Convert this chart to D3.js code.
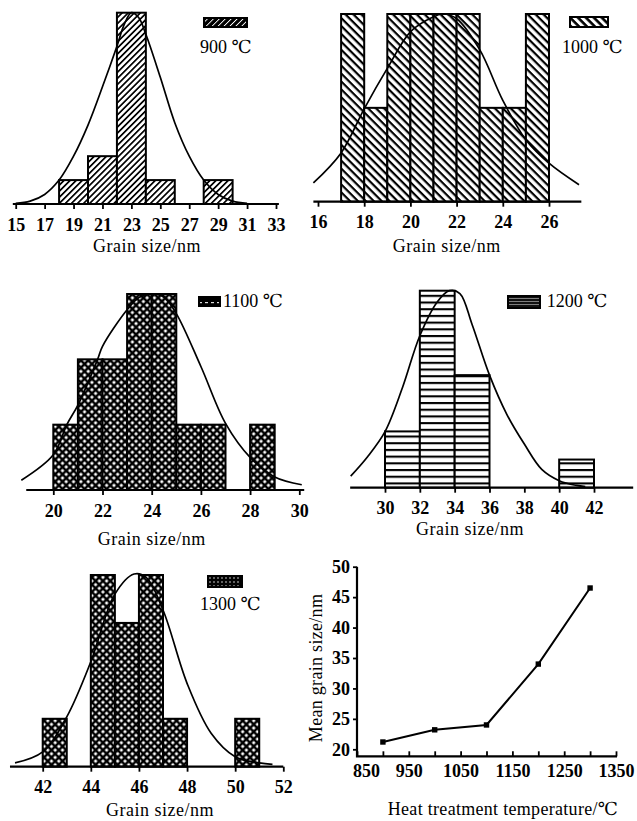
<!DOCTYPE html>
<html>
<head>
<meta charset="utf-8">
<script src="https://cdn.jsdelivr.net/npm/d3@7"></script>
<style>
  body { margin: 0; background: #fff; }
  svg { display: block; }
  text { font-family: "Liberation Serif", "DejaVu Serif", "Noto Sans CJK SC", serif; fill: #000; }
</style>
</head>
<body>
<div id="chart"></div>
<script>
// histogram bins (left edges), bin counts and fitted-curve points
const bins900 = [18, 20, 22, 24, 28]
const counts900 = [1, 2, 8, 1, 1]
const fit900 = [[15, 0.03], [16, 0.12], [17, 0.4], [18, 1.0], [19, 2.0], [20, 3.3], [21, 4.9], [22, 6.6], [22.5, 7.5], [23, 8.0], [23.5, 7.8], [24, 7.1], [25, 5.3], [26, 3.4], [27, 2.0], [28, 1.0], [29, 0.4], [30, 0.12], [31, 0.03]]
const ticks900 = [15, 17, 19, 21, 23, 25, 27, 29, 31, 33]

const bins1000 = [17, 18, 19, 20, 21, 22, 23, 24, 25]
const counts1000 = [2, 1, 2, 2, 2, 2, 1, 1, 2]
const fit1000 = [[15.8, 0.2], [17, 0.52], [18, 0.99], [19, 1.42], [20, 1.81], [21, 1.97], [21.4, 2.0], [22, 1.95], [23, 1.62], [24, 1.08], [25, 0.66], [26, 0.41], [27.3, 0.18]]
const ticks1000 = [16, 18, 20, 22, 24, 26]

const bins1100 = [20, 21, 22, 23, 24, 25, 26, 28]
const counts1100 = [1, 2, 2, 3, 3, 1, 1, 1]
const fit1100 = [[18.7, 0.15], [20, 0.54], [20.55, 1.0], [21, 1.3], [21.8, 2.0], [22, 2.2], [23, 2.76], [23.5, 2.95], [24, 3.0], [24.5, 2.95], [25, 2.7], [26, 1.89], [27, 1.02], [28, 0.5], [29, 0.2], [30.1, 0.08]]
const ticks1100 = [20, 22, 24, 26, 28, 30]

const bins1200 = [30, 32, 34, 40]
const counts1200 = [2, 7, 4, 1]
const fit1200 = [[28.03, 0.41], [29, 1.1], [30, 1.99], [31, 3.55], [32, 5.4], [33, 6.6], [33.7, 7.0], [34.3, 6.9], [35, 5.8], [36, 4.0], [37, 2.6], [38, 1.55], [39, 0.65], [40, 0.25], [41, 0.08], [41.5, 0.04]]
const ticks1200 = [30, 32, 34, 36, 38, 40, 42]

const bins1300 = [42, 44, 45, 46, 47, 50]
const counts1300 = [1, 4, 3, 4, 1, 1]
const fit1300 = [[40.85, 0.08], [42, 0.31], [43, 1.04], [44, 2.19], [45, 3.6], [45.8, 4.02], [46.3, 3.95], [47, 3.27], [48, 1.74], [49, 0.7], [50, 0.21], [51, 0.08], [51.55, 0.05]]
const ticks1300 = [42, 44, 46, 48, 50, 52]

// mean grain size vs heat treatment temperature
const temps = [900, 1000, 1100, 1200, 1300]
const meanSize = [21.2, 23.2, 24.0, 34.0, 46.5]
const tempTicks = [850, 900, 950, 1000, 1050, 1100, 1150, 1200, 1250, 1300, 1350]
const tempLabels = [850, 950, 1050, 1150, 1250, 1350]
const sizeTicks = [20, 25, 30, 35, 40, 45, 50]

const W = 637
const H = 821

const svg = d3.select('#chart').append('svg')
  .attr('width', W)
  .attr('height', H)
  .attr('viewBox', `0 0 ${W} ${H}`)

svg.append('rect').attr('width', W).attr('height', H).attr('fill', '#fff')

// ---- fill patterns (drawn axis-aligned, then rotated)
const defs = svg.append('defs')

function pat (id, size, angle, draw) {
  const p = defs.append('pattern')
    .attr('id', id)
    .attr('patternUnits', 'userSpaceOnUse')
    .attr('width', size)
    .attr('height', size)
  if (angle) p.attr('patternTransform', `rotate(${angle})`)
  draw(p, size)
}

// "/" hatching
pat('p900', 4.3, -45, (p, s) => {
  p.append('rect').attr('width', s).attr('height', s).attr('fill', '#fff')
  p.append('rect').attr('width', s).attr('height', 1.7).attr('fill', '#000')
})
// "\" hatching
pat('p1000', 5.6, 45, (p, s) => {
  p.append('rect').attr('width', s).attr('height', s).attr('fill', '#fff')
  p.append('rect').attr('width', s).attr('height', 2.2).attr('fill', '#000')
})
// cross hatching
pat('pcross', 5.2, 45, (p, s) => {
  const w = 2.5
  p.append('rect').attr('width', s).attr('height', s).attr('fill', '#000')
  p.append('rect').attr('x', w / 2).attr('y', w / 2).attr('width', s - w).attr('height', s - w).attr('fill', '#fff')
})
// horizontal lines
pat('p1200', 6.7, 0, (p, s) => {
  p.append('rect').attr('width', s).attr('height', s).attr('fill', '#fff')
  p.append('rect').attr('y', 0).attr('width', s).attr('height', 2.1).attr('fill', '#000')
})
// legend swatch fills
pat('l900', 4.2, -45, (p, s) => {
  p.append('rect').attr('width', s).attr('height', s).attr('fill', '#000')
  p.append('rect').attr('width', s).attr('height', 0.9).attr('fill', '#fff')
})
pat('l1000', 5.6, 45, (p, s) => {
  p.append('rect').attr('width', s).attr('height', s).attr('fill', '#fff')
  p.append('rect').attr('width', s).attr('height', 2.6).attr('fill', '#000')
})
pat('l1100', 6, 0, (p, s) => {
  p.append('rect').attr('width', s).attr('height', s).attr('fill', '#000')
  p.append('rect').attr('x', 1).attr('y', 2).attr('width', 3).attr('height', 1.2).attr('fill', '#ddd')
})
pat('l1200', 3, 0, (p, s) => {
  p.append('rect').attr('width', s).attr('height', s).attr('fill', '#111')
  p.append('rect').attr('y', 1).attr('width', s).attr('height', 0.8).attr('fill', '#999')
})
pat('l1300', 4, 0, (p, s) => {
  p.append('rect').attr('width', s).attr('height', s).attr('fill', '#000')
  p.append('circle').attr('cx', 2).attr('cy', 2).attr('r', 0.8).attr('fill', '#ddd')
})

// ---- panel layout
const panels = [
  {
    bins: bins900, counts: counts900, binW: 2, fit: fit900, ticks: ticks900,
    xDomain: [15, 33], xRange: [15.7, 276], base: 204, top: 12.7, yMax: 8, axisExt: [14.8, 33.2],
    fill: 'p900', swatch: { x: 204, y: 18, w: 43, h: 9, fill: 'l900' }, label: '900 ℃', lx: 200, ly: 53,
    title: [147, 252]
  },
  {
    bins: bins1000, counts: counts1000, binW: 1, fit: fit1000, ticks: ticks1000,
    xDomain: [16, 26], xRange: [318, 549], base: 201.7, top: 14, yMax: 2, axisExt: [15.8, 27.4],
    fill: 'p1000', swatch: { x: 570, y: 17, w: 38, h: 10, fill: 'l1000' }, label: '1000 ℃', lx: 562, ly: 53,
    title: [446.7, 252]
  },
  {
    bins: bins1100, counts: counts1100, binW: 1, fit: fit1100, ticks: ticks1100,
    xDomain: [20, 30], xRange: [53.3, 299.3], base: 490, top: 294, yMax: 3, axisExt: [18.9, 30.2],
    fill: 'pcross', swatch: { x: 199, y: 297, w: 21, h: 9, fill: 'l1100' }, label: '1100 ℃', lx: 223, ly: 307,
    title: [151.7, 545]
  },
  {
    bins: bins1200, counts: counts1200, binW: 2, fit: fit1200, ticks: ticks1200,
    xDomain: [30, 42], xRange: [385, 594], base: 487.7, top: 290.7, yMax: 7, axisExt: [28.0, 44.25],
    fill: 'p1200', swatch: { x: 508, y: 296, w: 32, h: 12, fill: 'l1200' }, label: '1200 ℃', lx: 546.7, ly: 307.3,
    title: [470, 535]
  },
  {
    bins: bins1300, counts: counts1300, binW: 1, fit: fit1300, ticks: ticks1300,
    xDomain: [42, 52], xRange: [42.7, 283.3], base: 766.7, top: 575, yMax: 4, axisExt: [40.64, 52.0],
    fill: 'pcross', swatch: { x: 208, y: 576, w: 34, h: 11, fill: 'l1300' }, label: '1300 ℃', lx: 200, ly: 610,
    title: [160, 816]
  }
]

function styleAxis (ax) {
  ax.attr('font-family', null).attr('font-size', null)
  ax.selectAll('.tick line').attr('stroke', '#000').attr('stroke-width', 1.8)
  ax.selectAll('.tick text')
    .attr('font-size', 18)
    .attr('font-weight', 'bold')
}

function histogram (cfg) {
  const g = svg.append('g')
  const x = d3.scaleLinear().domain(cfg.xDomain).range(cfg.xRange)
  const y = d3.scaleLinear().domain([0, cfg.yMax]).range([cfg.base, cfg.top])

  const rows = cfg.bins.map((b, i) => ({ x0: b, x1: b + cfg.binW, n: cfg.counts[i] }))

  g.selectAll('rect.bar')
    .data(rows)
    .join('rect')
    .attr('class', 'bar')
    .attr('x', d => x(d.x0))
    .attr('width', d => x(d.x1) - x(d.x0))
    .attr('y', d => y(d.n))
    .attr('height', d => y(0) - y(d.n))
    .attr('fill', `url(#${cfg.fill})`)
    .attr('stroke', '#000')
    .attr('stroke-width', 2)

  // fitted distribution curve
  const line = d3.line()
    .x(d => x(d[0]))
    .y(d => y(d[1]))
    .curve(d3.curveCatmullRom.alpha(0.5))
  g.append('path')
    .datum(cfg.fit)
    .attr('d', line)
    .attr('fill', 'none')
    .attr('stroke', '#000')
    .attr('stroke-width', 1.7)

  const ax = g.append('g')
    .attr('transform', `translate(0,${cfg.base})`)
    .call(d3.axisBottom(x).tickValues(cfg.ticks).tickSize(5).tickPadding(9).tickSizeOuter(0))
  ax.select('.domain').remove()
  styleAxis(ax)

  g.append('line')
    .attr('x1', x(cfg.axisExt[0]))
    .attr('x2', x(cfg.axisExt[1]))
    .attr('y1', cfg.base)
    .attr('y2', cfg.base)
    .attr('stroke', '#000')
    .attr('stroke-width', 2.2)

  // legend
  g.append('rect')
    .attr('x', cfg.swatch.x).attr('y', cfg.swatch.y)
    .attr('width', cfg.swatch.w).attr('height', cfg.swatch.h)
    .attr('fill', `url(#${cfg.swatch.fill})`)
    .attr('stroke', '#000').attr('stroke-width', 2)
  g.append('text')
    .attr('x', cfg.lx).attr('y', cfg.ly)
    .attr('font-size', 18)
    .text(cfg.label)

  g.append('text')
    .attr('x', cfg.title[0]).attr('y', cfg.title[1])
    .attr('text-anchor', 'middle')
    .attr('font-size', 18)
    .attr('letter-spacing', 0.5)
    .text('Grain size/nm')
}

panels.forEach(histogram)

// ---- mean grain size line chart
const lx = d3.scaleLinear().domain([850, 1350]).range([357, 616])
const ly = d3.scaleLinear().domain([20, 50]).range([749.3, 566.7])
const yBottom = 18.85

const lg = svg.append('g')

const xa = lg.append('g')
  .attr('transform', `translate(0,${ly(yBottom)})`)
  .call(d3.axisBottom(lx).tickValues(tempTicks).tickSizeInner(-5).tickSizeOuter(0).tickPadding(8)
    .tickFormat(d => tempLabels.includes(d) ? d : ''))
xa.select('.domain').remove()
styleAxis(xa)
// first label sits just right of the corner in the original
xa.selectAll('.tick text').filter(d => d === 850).attr('dx', 9)

const ya = lg.append('g')
  .attr('transform', `translate(${lx(850)},0)`)
  .call(d3.axisLeft(ly).tickValues(sizeTicks).tickSize(4).tickPadding(3).tickSizeOuter(0))
ya.select('.domain').remove()
styleAxis(ya)

lg.append('path')
  .attr('d', `M${lx(850)},${ly(50)} L${lx(850)},${ly(yBottom)} L${lx(1352)},${ly(yBottom)}`)
  .attr('fill', 'none')
  .attr('stroke', '#000')
  .attr('stroke-width', 2.2)

const pts = temps.map((t, i) => [t, meanSize[i]])

lg.append('path')
  .datum(pts)
  .attr('d', d3.line().x(d => lx(d[0])).y(d => ly(d[1])))
  .attr('fill', 'none')
  .attr('stroke', '#000')
  .attr('stroke-width', 2)

lg.selectAll('rect.mk')
  .data(pts)
  .join('rect')
  .attr('class', 'mk')
  .attr('x', d => lx(d[0]) - 2.7)
  .attr('y', d => ly(d[1]) - 2.7)
  .attr('width', 5.4)
  .attr('height', 5.4)
  .attr('fill', '#000')

lg.append('text')
  .attr('transform', `translate(322,668) rotate(-90)`)
  .attr('text-anchor', 'middle')
  .attr('font-size', 18)
  .attr('letter-spacing', 0.3)
  .text('Mean grain size/nm')

lg.append('text')
  .attr('x', 503).attr('y', 815)
  .attr('text-anchor', 'middle')
  .attr('font-size', 18)
  .attr('letter-spacing', 0.3)
  .text('Heat treatment temperature/℃')
</script>
</body>
</html>
